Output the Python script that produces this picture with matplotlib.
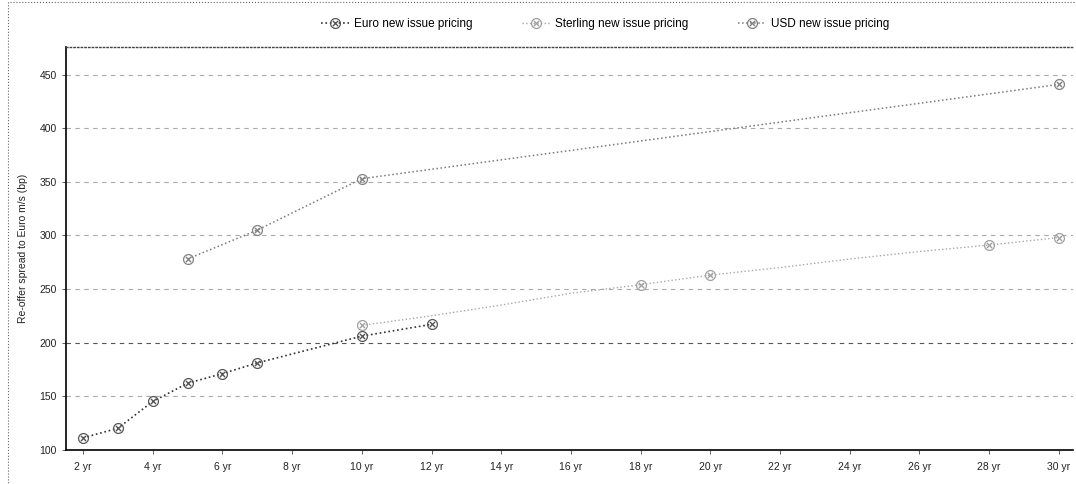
import matplotlib.pyplot as plt
from matplotlib.patches import Rectangle

# tenors (years) and re-offer spreads (bp)
euro_yrs = [2, 3, 4, 5, 6, 7, 10, 12]
euro_bp = [111, 120, 145, 162, 171, 181, 206, 217]

sterling_yrs = [10, 12, 14, 16, 18, 20, 22, 24, 26, 28, 30]
sterling_bp = [216, 225, 235, 246, 254, 263, 270, 278, 285, 291, 298]
sterling_mk = [0, 4, 5, 9, 10]  # points where a marker is visible

usd_yrs = [5, 7, 10, 30]
usd_bp = [278, 305, 353, 441]

xtick_yrs = list(range(2, 31, 2))
xtick_labels = ['%d yr' % y for y in xtick_yrs]
ytick_vals = [100, 150, 200, 250, 300, 350, 400, 450]

plt.rcParams['font.family'] = ['Liberation Sans', 'DejaVu Sans']

fig = plt.figure(figsize=(10.76, 4.84), dpi=100)
ax = fig.add_axes([0.061, 0.071, 0.936, 0.832])

mk = '$\\otimes$'
ax.plot(euro_yrs, euro_bp, ls=':', lw=1.2, color='#333333', marker=mk, ms=8,
        mew=0, mfc='#555555', label='Euro new issue pricing')
ax.plot(sterling_yrs, sterling_bp, ls=':', lw=1.0, color='#a8a8a8', marker=mk, ms=8,
        mew=0, mfc='#a0a0a0', markevery=sterling_mk, label='Sterling new issue pricing')
ax.plot(usd_yrs, usd_bp, ls=':', lw=1.1, color='#7a7a7a', marker=mk, ms=8,
        mew=0, mfc='#808080', label='USD new issue pricing')

ax.set_xlim(1.5, 30.4)
ax.set_ylim(100, 476)
ax.set_xticks(xtick_yrs)
ax.set_xticklabels(xtick_labels)
ax.set_yticks(ytick_vals)
ax.tick_params(labelsize=7.5, length=3, width=0.6, color='#444444', labelcolor='#222222')
ax.tick_params(axis='x', pad=6)

for v in ytick_vals[1:]:
    ax.axhline(v, ls=(0, (4, 4)), lw=0.8, color='#555555' if v == 200 else '#aaaaaa', zorder=0)

ax.spines['left'].set_linewidth(1.2)
ax.spines['bottom'].set_linewidth(1.2)
ax.spines['right'].set_visible(False)
ax.spines['top'].set_linestyle(':')
ax.spines['top'].set_linewidth(1.0)
ax.spines['top'].set_color('#444444')

ax.set_ylabel('Re-offer spread to Euro m/s (bp)', fontsize=7.5, color='#222222', labelpad=8)

fig.legend(loc='upper center', bbox_to_anchor=(0.562, 0.985), ncol=3, frameon=False,
           fontsize=8.5, handlelength=2.4, columnspacing=4.2, handletextpad=0.4)

# dotted frame round the whole chart
fig.patches.append(Rectangle((0.007, -0.02), 1.5, 1.015, transform=fig.transFigure,
                             fill=False, ls=':', lw=0.8, ec='#666666'))

fig.savefig('out.png', dpi=100)
